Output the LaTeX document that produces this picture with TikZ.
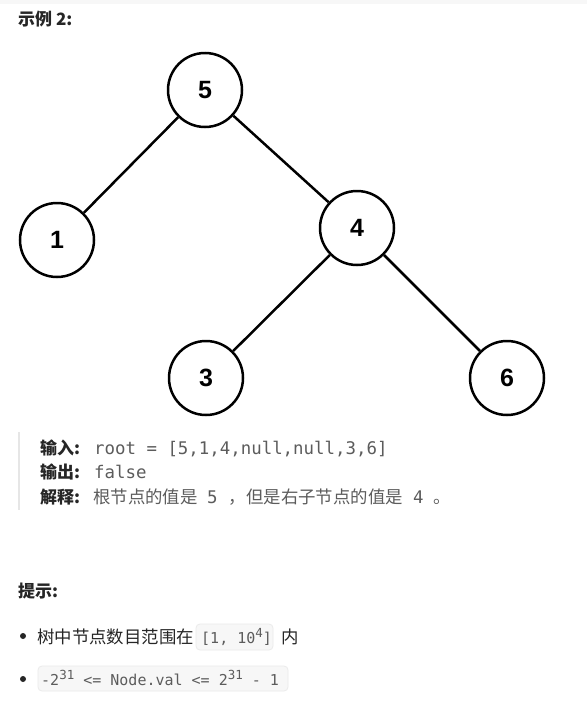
\documentclass[tikz,border=0pt]{standalone}
\usepackage{fontspec}
\setmainfont{Liberation Sans}
\setmonofont{DejaVu Sans Mono}
\newfontfamily\cjk{Noto Sans CJK SC}
\definecolor{txt}{HTML}{262626}
\definecolor{gtxt}{HTML}{5C5C5C}
\definecolor{codebg}{HTML}{F7F7F7}
\definecolor{codebd}{HTML}{EBEBEB}
\definecolor{barc}{HTML}{E6E6E6}
\newcommand{\mysup}[1]{\raisebox{5.5pt}{\fontsize{12.5}{12.5}\selectfont #1}}
\tikzset{
  tnode/.style={circle,draw=black,line width=2.5pt,minimum size=74pt,inner sep=0pt,font=\fontsize{25}{25}\selectfont\bfseries},
  tedge/.style={line width=2.5pt,black},
  lbl/.style={anchor=base west,inner sep=0pt,text=txt,font=\fontsize{17}{17}\selectfont\cjk\bfseries},
  val/.style={anchor=base west,inner sep=0pt,text=gtxt,font=\fontsize{17.4}{17.4}\selectfont\ttfamily},
  cval/.style={anchor=base west,inner sep=0pt,text=gtxt,font=\fontsize{17.4}{17.4}\selectfont\cjk},
  body/.style={anchor=base west,inner sep=0pt,text=txt,font=\fontsize{17.4}{17.4}\selectfont\cjk},
  cbox/.style={draw=codebd,fill=codebg,rounded corners=4pt,line width=0.8pt},
  ctext/.style={anchor=base west,inner sep=0pt,text=gtxt,font=\fontsize{15}{15}\selectfont\ttfamily},
}
\begin{document}
\begin{tikzpicture}[x=1pt,y=-1pt]
\useasboundingbox (0,0) rectangle (587,715);
\fill[white] (0,0) rectangle (587,715);
\fill[codebg] (0,0) rectangle (587,4);
\node[lbl] (title) at (18,25) {示例 2:};
% tree
\node[tnode] (n5) at (205,90) {5};
\node[tnode] (n1) at (57,240) {1};
\node[tnode] (n4) at (357,228) {4};
\node[tnode] (n3) at (206,378) {3};
\node[tnode] (n6) at (507,378) {6};
\draw[tedge] (n5) -- (n1);
\draw[tedge] (n5) -- (n4);
\draw[tedge] (n4) -- (n3);
\draw[tedge] (n4) -- (n6);
% blockquote
\fill[barc] (18,432) rectangle (20,510);
\node[lbl] (l1) at (40,454) {输入:};
\node[val] (v1) at (94,454) {root = [5,1,4,null,null,3,6]};
\node[lbl] (l2) at (40,478) {输出:};
\node[val] (v2) at (94,478) {false};
\node[lbl] (l3) at (40,503) {解释:};
\node[cval] (v3a) at (93,503) {根节点的值是};
\node[val] (v3b) at (207,503) {5};
\node[cval] (v3c) at (228,503) {，};
\node[cval] (v3d) at (246,503) {但是右子节点的值是};
\node[val] (v3e) at (413,503) {4};
\node[cval] (v3f) at (433,503) {。};
% hints
\node[lbl] (hint) at (18,597) {提示:};
\fill[txt] (23,636) circle (3);
\node[body] (b1) at (37,643) {树中节点数目范围在};
\draw[cbox] (196,624) rectangle (273,650);
\node[ctext] (c1) at (201,643) {[1, 10\mysup{4}]};
\node[body] (b1b) at (281,643) {内};
\fill[txt] (23,679) circle (3);
\draw[cbox] (38,666) rectangle (288,691);
\node[ctext] (c2) at (41,685) {-2\mysup{31} <= Node.val <= 2\mysup{31} - 1};
\end{tikzpicture}
\end{document}
